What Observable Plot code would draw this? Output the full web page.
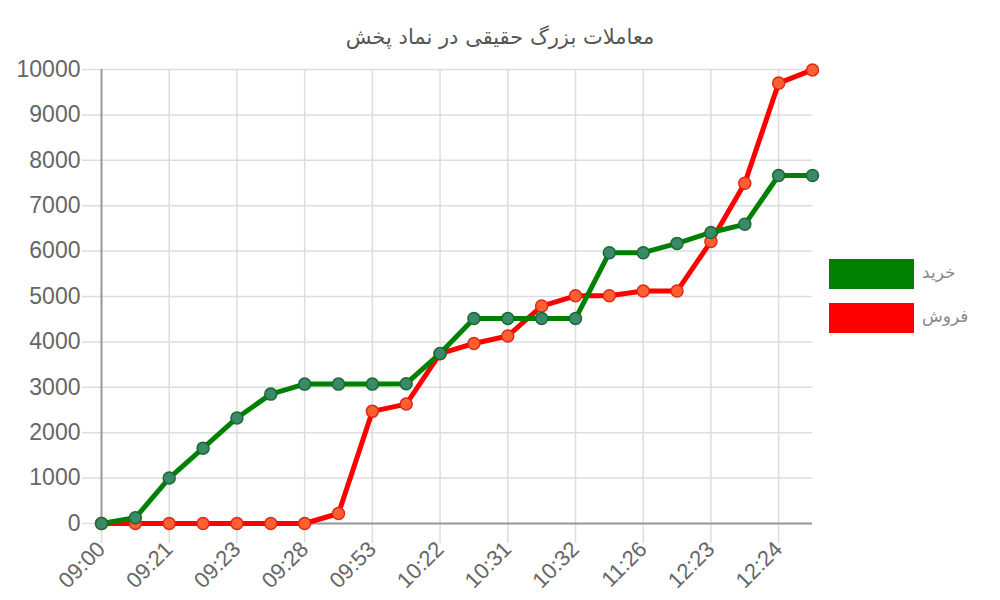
<!DOCTYPE html>
<html>
<head>
<meta charset="utf-8">
<script src="https://cdn.jsdelivr.net/npm/d3@7"></script>
<script src="https://cdn.jsdelivr.net/npm/@observablehq/plot@0.6"></script>
<style>
  body { margin: 0; background: #fff; }
  #wrap { position: relative; width: 1000px; height: 600px; font-family: "Liberation Sans", Arial, sans-serif; }
  #title { height: 55px; line-height: 74px; text-align: center; font-family: "DejaVu Sans", sans-serif; font-size: 21px; color: #555; direction: rtl; }
  .leg { position: absolute; left: 829px; width: 85px; height: 30px; }
  .legt { position: absolute; left: 922px; font-family: "DejaVu Sans", sans-serif; font-size: 17px; color: #888; direction: rtl; width: 60px; text-align: left; letter-spacing: 5px; }
  #chart svg g[aria-label^="y-axis"] text { font-size: 23px; }
  #chart svg g[aria-label^="x-axis"] text { font-size: 22px; }
</style>
</head>
<body>
<div id="wrap">
  <div id="title">معاملات بزرگ حقیقی در نماد پخش</div>
  <div id="chart"></div>
  <div class="leg" style="top:259px;background:#008000"></div>
  <div class="legt" style="top:262px">خرید</div>
  <div class="leg" style="top:303px;background:#ff0000"></div>
  <div class="legt" style="top:306px">فروش</div>
</div>
<script>
const timeLabels = ["09:00","09:21","09:23","09:28","09:53","10:22","10:31","10:32","11:26","12:23","12:24"];
const buy  = [0,125,1000,1660,2325,2850,3070,3070,3070,3080,3745,4515,4515,4515,4515,5965,5965,6170,6410,6590,7665,7665];
const sell = [0,0,0,0,0,0,0,220,2470,2630,3740,3965,4130,4790,5015,5015,5120,5120,6210,7495,9700,9990];
const yTicks = [0,1000,2000,3000,4000,5000,6000,7000,8000,9000,10000];

const idx = d3.range(buy.length);
const labelIdx = timeLabels.map((_, k) => k * 2);
const buyData = idx.map(i => ({i, v: buy[i]}));
const sellData = idx.map(i => ({i, v: sell[i]}));

const plot = Plot.plot({
  width: 1000,
  height: 545,
  marginTop: 14,
  marginBottom: 77,
  marginLeft: 101,
  marginRight: 188,
  style: { fontFamily: "Liberation Sans, Arial, sans-serif", color: "#666", background: "#fff" },
  x: { type: "linear", domain: [0, idx.length - 1], ticks: labelIdx, tickFormat: i => timeLabels[i / 2], tickSize: 0, tickPadding: 22, tickRotate: -45, label: null },
  y: { domain: [0, 10000], ticks: yTicks, tickFormat: d => String(d), tickSize: 0, tickPadding: 21, label: null },
  marks: [
    Plot.ruleY(yTicks, { stroke: "#ddd", strokeWidth: 1.5, insetLeft: -19 }),
    Plot.ruleX(labelIdx, { stroke: "#ddd", strokeWidth: 1.5, insetBottom: -20 }),
    Plot.ruleX([0], { stroke: "#999", strokeWidth: 2 }),
    Plot.ruleY([0], { stroke: "#999", strokeWidth: 2 }),
    Plot.line(sellData, { x: "i", y: "v", stroke: "#ff0000", strokeWidth: 5 }),
    Plot.dot(sellData, { x: "i", y: "v", r: 6, fill: "#ff6030", stroke: "#e02818", strokeWidth: 1.5 }),
    Plot.line(buyData, { x: "i", y: "v", stroke: "#008000", strokeWidth: 5 }),
    Plot.dot(buyData, { x: "i", y: "v", r: 6, fill: "#3a8a6a", stroke: "#1a6a30", strokeWidth: 1.5 })
  ]
});
document.getElementById("chart").appendChild(plot);
</script>
</body>
</html>
